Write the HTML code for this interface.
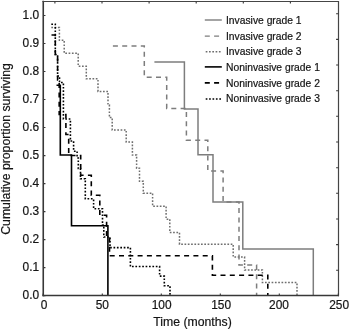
<!DOCTYPE html>
<html><head><meta charset="utf-8"><title>Survival plot</title>
<style>html,body{margin:0;padding:0;background:#fff;}svg{display:block;}text{font-family:"Liberation Sans",Arial,sans-serif;}</style>
</head><body>
<svg width="350" height="329" viewBox="0 0 350 329">
<rect width="350" height="329" fill="#fff"/>
<g fill="none" stroke-linejoin="miter" stroke-linecap="butt">
<polyline points="51.3,27.6 59.4,27.6 59.4,40.3 64.2,40.3 64.2,53.2 78.2,53.2 78.2,66.2 86.3,66.2 86.3,78.8 98.0,78.8 98.0,91.4 108.0,91.4 108.0,104.9 109.4,104.9 109.4,117.6 112.2,117.6 112.2,129.9 126.2,129.9 126.2,142.0 132.4,142.0 132.4,155.1 136.6,155.1 136.6,168.2 139.5,168.2 139.5,181.3 143.3,181.3 143.3,193.2 152.6,193.2 152.6,206.2 166.1,206.2 166.1,219.2 169.8,219.2 169.8,232.5 179.5,232.5 179.5,244.2 233.2,244.2 233.2,257.0 244.6,257.0 244.6,270.0 262.4,270.0 262.4,282.5 297.0,282.5 297.0,295.6" stroke="#6e6e6e" stroke-width="1.5" stroke-dasharray="1.7 1.6"/>
<polyline points="112.9,45.9 144.3,45.9 144.3,77.2 166.7,77.2 166.7,108.4 186.4,108.4 186.4,140.3 207.8,140.3 207.8,170.9 223.1,170.9 223.1,202.0 239.0,202.0 239.0,265.0 256.6,265.0 256.6,295.6" stroke="#7d7d7d" stroke-width="1.5" stroke-dasharray="5 4.3"/>
<polyline points="154.4,62.1 184.4,62.1 184.4,109.0 198.0,109.0 198.0,154.8 213.0,154.8 213.0,202.0 242.8,202.0 242.8,249.0 313.3,249.0 313.3,295.6" stroke="#7d7d7d" stroke-width="1.5"/>
<polyline points="51.3,24.2 55.3,24.2 55.3,54.5 57.6,54.5 57.6,76.0 59.5,76.0 59.5,82.5 63.4,82.5 63.4,119.0 70.4,119.0 70.4,141.0 73.6,141.0 73.6,151.2 77.1,151.2 77.1,158.0 78.3,158.0 78.3,168.5 80.5,168.5 80.5,178.8 85.3,178.8 85.3,198.8 93.6,198.8 93.6,208.8 102.5,208.8 102.5,225.0 103.8,225.0 103.8,237.0 110.0,237.0 110.0,247.6 130.4,247.6 130.4,266.5 159.6,266.5 159.6,276.1 164.3,276.1 164.3,285.7 170.0,285.7 170.0,295.6" stroke="#000" stroke-width="1.6" stroke-dasharray="1.7 1.7"/>
<polyline points="51.5,35.0 55.3,35.0 55.3,54.5 57.6,54.5 57.6,80.0 59.2,80.0 59.2,114.5 65.9,114.5 65.9,134.5 68.7,134.5 68.7,155.5 80.7,155.5 80.7,175.3 91.3,175.3 91.3,195.3 99.8,195.3 99.8,215.3 106.6,215.3 106.6,237.0 109.5,237.0 109.5,255.8 212.4,255.8 212.4,275.2 267.8,275.2 267.8,295.6" stroke="#000" stroke-width="1.6" stroke-dasharray="5 4.3"/>
<polyline points="56.5,85.2 60.3,85.2 60.3,155.0 71.5,155.0 71.5,225.8 107.9,225.8 107.9,295.6" stroke="#000" stroke-width="1.6"/>
</g>
<path d="M43.25,0.7999999999999999V296.35" stroke="#383838" stroke-width="1.6" fill="none"/>
<path d="M42.45,295.6H338.90000000000003" stroke="#383838" stroke-width="1.5" fill="none"/>
<path d="M42.45,1.5H338.90000000000003" stroke="#454545" stroke-width="1.1" fill="none"/>
<path d="M338.5,0.9999999999999999V296.35" stroke="#454545" stroke-width="1.2" fill="none"/>
<path d="M43.25,295.6h2.2 M43.25,267.6h2.2 M43.25,239.6h2.2 M43.25,211.6h2.2 M43.25,183.6h2.2 M43.25,155.6h2.2 M43.25,127.5h2.2 M43.25,99.5h2.2 M43.25,71.5h2.2 M43.25,43.5h2.2 M43.25,15.5h2.2 M43.2,295.6v-2.2 M102.3,295.6v-2.2 M161.3,295.6v-2.2 M220.3,295.6v-2.2 M279.3,295.6v-2.2 M338.3,295.6v-2.2 M54.9,1.4v2.2 M102.0,1.4v2.2 M149.1,1.4v2.2 M196.2,1.4v2.2 M243.3,1.4v2.2 M290.4,1.4v2.2 M338.3,13.7h-2.2 M338.3,39.4h-2.2 M338.3,65.0h-2.2 M338.3,90.7h-2.2 M338.3,116.3h-2.2 M338.3,142.0h-2.2 M338.3,167.7h-2.2 M338.3,193.3h-2.2 M338.3,219.0h-2.2 M338.3,244.6h-2.2 M338.3,270.3h-2.2" stroke="#383838" stroke-width="1.1" fill="none"/>
<g font-size="11.9" fill="#141414" stroke="#141414" stroke-width="0.2">
<text x="39.1" y="299.3" text-anchor="end">0.0</text>
<text x="39.1" y="271.3" text-anchor="end">0.1</text>
<text x="39.1" y="243.3" text-anchor="end">0.2</text>
<text x="39.1" y="215.3" text-anchor="end">0.3</text>
<text x="39.1" y="187.3" text-anchor="end">0.4</text>
<text x="39.1" y="159.2" text-anchor="end">0.5</text>
<text x="39.1" y="131.2" text-anchor="end">0.6</text>
<text x="39.1" y="103.2" text-anchor="end">0.7</text>
<text x="39.1" y="75.2" text-anchor="end">0.8</text>
<text x="39.1" y="47.2" text-anchor="end">0.9</text>
<text x="39.1" y="19.2" text-anchor="end">1.0</text>
<text x="44.0" y="309.1" text-anchor="middle">0</text>
<text x="102.3" y="309.1" text-anchor="middle">50</text>
<text x="161.6" y="309.1" text-anchor="middle">100</text>
<text x="221.1" y="309.1" text-anchor="middle">150</text>
<text x="279.0" y="309.1" text-anchor="middle">200</text>
<text x="339.1" y="309.1" text-anchor="middle">250</text>
</g>
<g font-size="12.25" fill="#141414" stroke="#141414" stroke-width="0.2">
<text x="192.5" y="326" text-anchor="middle">Time (months)</text>
<text transform="translate(10.4,149) rotate(-90)" text-anchor="middle">Cumulative proportion surviving</text>
</g>
<line x1="204.8" y1="20" x2="221.8" y2="20" stroke="#7d7d7d" stroke-width="1.4"/>
<text x="226" y="23.5" font-size="10.3" fill="#141414" stroke="#141414" stroke-width="0.2">Invasive grade 1</text>
<line x1="204.8" y1="36.1" x2="221.8" y2="36.1" stroke="#7d7d7d" stroke-width="1.4" stroke-dasharray="5 4.3"/>
<text x="226" y="39.6" font-size="10.3" fill="#141414" stroke="#141414" stroke-width="0.2">Invasive grade 2</text>
<line x1="205.7" y1="51.7" x2="221.1" y2="51.7" stroke="#6e6e6e" stroke-width="1.5" stroke-dasharray="1.7 1.6"/>
<text x="226" y="55.1" font-size="10.3" fill="#141414" stroke="#141414" stroke-width="0.2">Invasive grade 3</text>
<line x1="204.8" y1="66.9" x2="221.8" y2="66.9" stroke="#000" stroke-width="1.6"/>
<text x="226" y="70.9" font-size="10.3" fill="#141414" stroke="#141414" stroke-width="0.2">Noninvasive grade 1</text>
<line x1="204.8" y1="82.8" x2="221.8" y2="82.8" stroke="#000" stroke-width="1.8" stroke-dasharray="5 4.3"/>
<text x="226" y="86.8" font-size="10.3" fill="#141414" stroke="#141414" stroke-width="0.2">Noninvasive grade 2</text>
<line x1="205.7" y1="99" x2="221.1" y2="99" stroke="#000" stroke-width="1.6" stroke-dasharray="1.7 1.7"/>
<text x="226" y="102.4" font-size="10.3" fill="#141414" stroke="#141414" stroke-width="0.2">Noninvasive grade 3</text>
</svg>
</body></html>
